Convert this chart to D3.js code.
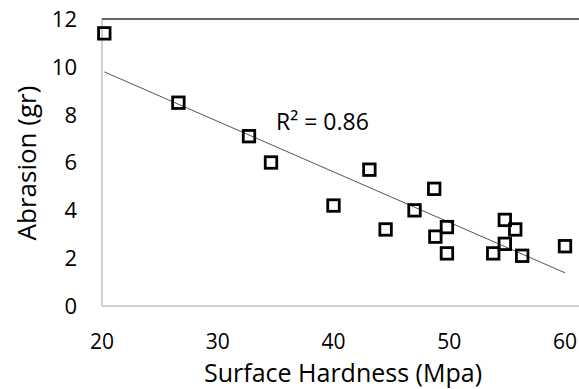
<!DOCTYPE html>
<html>
<head>
<meta charset="utf-8">
<script src="https://cdn.jsdelivr.net/npm/d3@7"></script>
<style>
  body { margin: 0; background: #fff; }
  text { font-family: "Open Sans", sans-serif; fill: #000; }
</style>
</head>
<body>
<div id="chart"></div>
<script>
// surface hardness (Mpa) vs abrasion (gr)
var hardness = [20.2, 26.6, 32.7, 34.6, 40.0, 43.1, 44.5, 47.0, 48.7, 48.8, 49.8, 49.8, 53.8, 54.8, 54.8, 55.7, 56.3, 60.0];
var abrasion = [11.4, 8.5, 7.1, 6.0, 4.2, 5.7, 3.2, 4.0, 4.9, 2.9, 3.3, 2.2, 2.2, 3.6, 2.6, 3.2, 2.1, 2.5];
var xTicks = [20, 30, 40, 50, 60];
var yTicks = [0, 2, 4, 6, 8, 10, 12];
var r2Label = "R\u00b2 = 0.86";

var width = 579, height = 389;
var svg = d3.select("#chart").append("svg").attr("width", width).attr("height", height);

var x = d3.scaleLinear().domain([20, 60]).range([102, 565]);
var y = d3.scaleLinear().domain([0, 12]).range([306, 19]);

var data = hardness.map(function (h, i) { return {x: h, y: abrasion[i]}; });

// axis lines
svg.append("line").attr("x1", x(20)).attr("x2", width).attr("y1", y(0)).attr("y2", y(0))
  .attr("stroke", "#bfbfbf").attr("stroke-width", 1.5);
svg.append("line").attr("x1", x(20)).attr("x2", x(20)).attr("y1", y(0)).attr("y2", y(12))
  .attr("stroke", "#bfbfbf").attr("stroke-width", 1.5);
svg.append("line").attr("x1", x(20)).attr("x2", width).attr("y1", y(12)).attr("y2", y(12))
  .attr("stroke", "#333").attr("stroke-width", 1.5);

// tick labels
svg.append("g").selectAll("text").data(yTicks).enter().append("text")
  .attr("x", 77).attr("y", function (d) { return y(d); })
  .attr("dy", "0.36em").attr("text-anchor", "end")
  .style("font-size", "22px").text(function (d) { return d; });

svg.append("g").selectAll("text").data(xTicks).enter().append("text")
  .attr("x", function (d) { return x(d); }).attr("y", 349)
  .attr("text-anchor", "middle")
  .style("font-size", "21px").text(function (d) { return d; });

// axis titles
svg.append("text").attr("x", 343).attr("y", 382).attr("text-anchor", "middle")
  .style("font-size", "25px").text("Surface Hardness (Mpa)");
svg.append("text").attr("transform", "translate(36,163) rotate(-90)")
  .attr("text-anchor", "middle").style("font-size", "26px").text("Abrasion (gr)");

// linear trendline by least squares
var mx = d3.mean(hardness), my = d3.mean(abrasion);
var sxy = d3.sum(data, function (d) { return (d.x - mx) * (d.y - my); });
var sxx = d3.sum(data, function (d) { return (d.x - mx) * (d.x - mx); });
var slope = sxy / sxx, icpt = my - slope * mx;
var xs = d3.extent(hardness);
svg.append("line")
  .attr("x1", x(xs[0])).attr("y1", y(icpt + slope * xs[0]))
  .attr("x2", x(xs[1])).attr("y2", y(icpt + slope * xs[1]))
  .attr("stroke", "#555").attr("stroke-width", 1);

svg.append("text").attr("x", 276).attr("y", 130).style("font-size", "23px").text(r2Label);

// markers
var s = 11.5;
svg.append("g").selectAll("rect").data(data).enter().append("rect")
  .attr("x", function (d) { return x(d.x) - s / 2; })
  .attr("y", function (d) { return y(d.y) - s / 2; })
  .attr("width", s).attr("height", s)
  .attr("fill", "none").attr("stroke", "#000").attr("stroke-width", 2.8);
</script>
</body>
</html>
